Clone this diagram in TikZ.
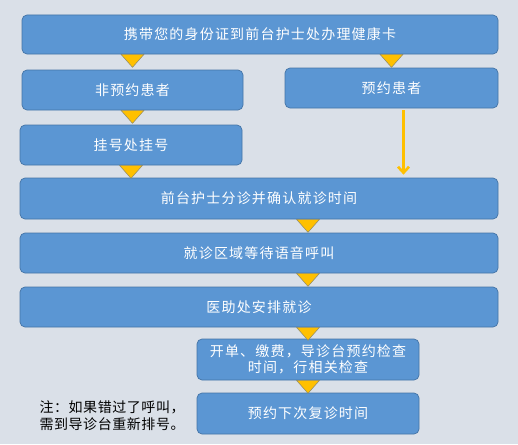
\documentclass[tikz,border=0pt]{standalone}
\usepackage{fontspec}
\usepackage{tikz}
\usetikzlibrary{arrows.meta, positioning, calc}
\newfontfamily\cjk[LetterSpace=8.5]{Noto Sans CJK SC}
\newfontfamily\cjknote[LetterSpace=4]{Noto Sans CJK SC}
\definecolor{canvas}  {HTML}{DAE0E8}
\definecolor{boxfill} {HTML}{5B96D3}
\definecolor{boxline} {HTML}{4474A6}
\definecolor{gold}    {HTML}{FFC000}
\definecolor{goldline}{HTML}{8E8A6A}
\tikzset{
  stepbox/.style={draw=boxline, fill=boxfill, rounded corners=5pt, line width=0.7pt,
    text=white, font=\cjk\fontsize{14}{16}\selectfont, align=center,
    inner sep=0pt, minimum height=40pt},
  tri/.style={fill=gold, draw=goldline, line width=0.5pt, line join=miter},
  flow/.style={draw=gold, line width=2.6pt, -{Straight Barb[length=6pt, width=11pt, line width=2.6pt]}},
  note/.style={anchor=west, align=left, text=black, font=\cjknote\fontsize{14}{17}\selectfont}
}

\begin{document}
\begin{tikzpicture}[x=1pt, y=-1pt]
    \fill[canvas] (0, 0) rectangle (518, 444);
    \useasboundingbox (0, 0) rectangle (518, 444);

    \node[stepbox, minimum width=476pt, minimum height=39pt] (card)    at (260,   34.5) {携带您的身份证到前台护士处办理健康卡};
    \node[stepbox, minimum width=221pt] (walkin)  at (132.5, 90)    {非预约患者};
    \node[stepbox, minimum width=213pt] (booked)  at (391.5, 88)    {预约患者};
    \node[stepbox, minimum width=222pt] (regist)  at (131,   145)   {挂号处挂号};
    \node[stepbox, minimum width=478pt, minimum height=41pt] (triage)  at (259,   198.5) {前台护士分诊并确认就诊时间};
    \node[stepbox, minimum width=478pt] (waiting) at (259,   253)   {就诊区域等待语音呼叫};
    \node[stepbox, minimum width=478pt] (doctor)  at (259,   307)   {医助处安排就诊};
    \node[stepbox, minimum width=222pt, minimum height=41pt] (exam)    at (308,   359.5) {开单、缴费，导诊台预约检查\\时间，行相关检查};
    \node[stepbox, minimum width=222pt, minimum height=41pt] (revisit) at (308,   413.5) {预约下次复诊时间};

    \node[note] (remark) at (36, 416) {注：如果错过了呼叫，\\需到导诊台重新排号。};

    % yellow triangles between the steps
    \draw[tri] (card.south -| walkin.center)   ++(-11.5, 0) -- ++(23, 0) -- ++(-11.5, 13) -- cycle;
    \draw[tri] (card.south -| booked.center)   ++(-11.5, 0) -- ++(23, 0) -- ++(-11.5, 13) -- cycle;
    \draw[tri] (walkin.south)                  ++(-11.5, 0) -- ++(23, 0) -- ++(-11.5, 13) -- cycle;
    \draw[tri] (regist.south)                  ++(-11.5, 0) -- ++(23, 0) -- ++(-11.5, 13) -- cycle;
    \draw[tri] (triage.south -| exam.center)   ++(-11.5, 0) -- ++(23, 0) -- ++(-11.5, 13) -- cycle;
    \draw[tri] (waiting.south -| exam.center)  ++(-11.5, 0) -- ++(23, 0) -- ++(-11.5, 13) -- cycle;
    \draw[tri] (doctor.south -| exam.center)   ++(-11.5, 0) -- ++(23, 0) -- ++(-11.5, 13) -- cycle;
    \draw[tri] (exam.south)                    ++(-11.5, 0) -- ++(23, 0) -- ++(-11.5, 13) -- cycle;

    \draw[flow, shorten <=2pt, shorten >=3pt] ([xshift=12pt]booked.south) -- ([xshift=12pt]booked.south |- triage.north);
\end{tikzpicture}
\end{document}
